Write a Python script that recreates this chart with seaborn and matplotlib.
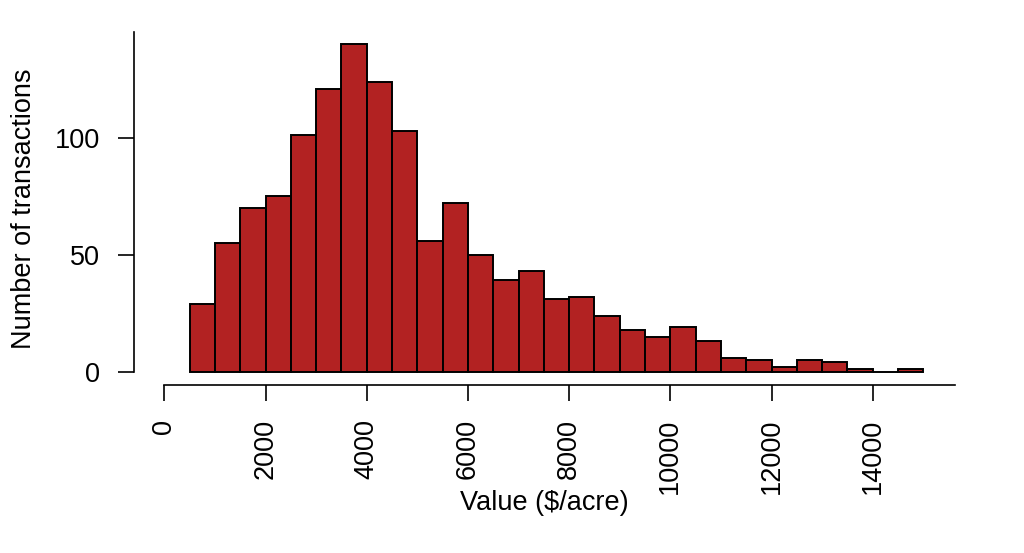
import numpy as np
import pandas as pd
import matplotlib
matplotlib.use("Agg")
import matplotlib.pyplot as plt
import seaborn as sns

# histogram: bins of 500 $/acre starting at 500
bin_start = list(range(500, 15000, 500))
counts = [29, 55, 70, 75, 101, 121, 140, 124, 103, 56, 72, 50, 39, 43, 31,
          32, 24, 18, 15, 19, 13, 6, 5, 2, 5, 4, 1, 0, 1]
bin_edges = list(range(500, 15001, 500))
x_ticks = [0, 2000, 4000, 6000, 8000, 10000, 12000, 14000]
y_ticks = [0, 50, 100]

sns.set_theme(style="white")
plt.rcParams["font.family"] = ["Liberation Sans", "DejaVu Sans"]

df = pd.DataFrame({"value": bin_start, "n": counts})
df["mid"] = df["value"] + 250

fig = plt.figure(figsize=(10.24, 5.53), dpi=100)
ax = fig.add_axes([134 / 1024, 168 / 553, 821 / 1024, 353 / 553])

sns.histplot(data=df, x="mid", weights="n", bins=bin_edges,
             color="#b22222", alpha=1, edgecolor="black", linewidth=1.4, ax=ax)

ax.set_xlim(-599, 15626)
ax.set_ylim(-5.7, 145.2)

# R style detached axes
sns.despine(ax=ax)
for side in ["left", "bottom"]:
    ax.spines[side].set_color("black")
    ax.spines[side].set_linewidth(1.2)
ax.spines["left"].set_bounds(0, 145.2)
ax.spines["bottom"].set_bounds(0, 15626)

ax.set_xticks(x_ticks)
ax.set_yticks(y_ticks)
ax.set_xticklabels([str(t) for t in x_ticks], rotation=90)
ax.tick_params(bottom=True, left=True, direction="out", length=11.5, width=1.2,
               color="black", labelcolor="black", labelsize=19.5, pad=13)

ax.set_xlabel("Value ($/acre)", fontsize=19.5, color="black")
ax.set_ylabel("Number of transactions", fontsize=19.5, color="black")
ax.xaxis.label.set_va("center")
ax.yaxis.label.set_va("center")
ax.xaxis.set_label_coords(0.5, -0.334)
ax.yaxis.set_label_coords(-0.134, 0.5)

fig.savefig("out.png", dpi=100)
